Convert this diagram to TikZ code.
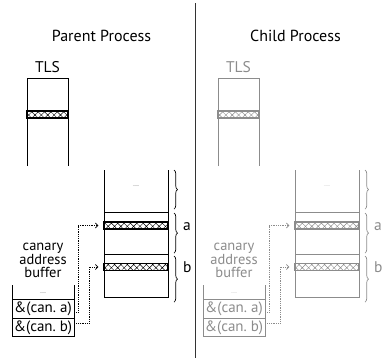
\documentclass[tikz,border=0pt]{standalone}
\usepackage{fontspec}
\setmainfont{PT Sans}
\usetikzlibrary{patterns.meta,decorations.pathreplacing,arrows.meta}

\definecolor{ghost}{gray}{0.55}

\tikzset{
  wall/.style={line width=1pt},
  band/.style={draw,line width=1.1pt,minimum height=7pt,inner sep=0pt,
    pattern={Hatch[angle=45,distance=4.5pt,line width=0.45pt]}},
  cell/.style={draw,line width=0.9pt,minimum width=62pt,minimum height=18.5pt,
    inner sep=0pt,font=\fontsize{15}{15}\selectfont},
  ptr/.style={densely dotted,line width=0.8pt,-{Straight Barb[length=2.5pt,width=5pt]}},
  brc/.style={decorate,decoration={brace,amplitude=3.5pt},line width=0.7pt},
  gap/.style={font=\fontsize{4}{4}\selectfont,inner sep=0pt},
  title/.style={anchor=base,inner sep=0pt,font=\fontsize{16}{16}\selectfont},
  lbl/.style={anchor=base,inner sep=0pt,font=\fontsize{15.5}{15.5}\selectfont},
  bufname/.style={anchor=south,inner sep=0pt,align=center,
    font=\fontsize{14.5}{13.5}\selectfont},
}

\begin{document}
\begin{tikzpicture}[x=1pt,y=-1pt]
  \useasboundingbox (0,0) rectangle (383,360);

  % the two processes
  \node[title] (ptitle) at (101.5,41) {Parent Process};
  \node[title] (ctitle) at (295.5,41.5) {Child Process};
  \draw[line width=1pt,black!80] (195,3) -- (195,358);

  \foreach \p/\dx/\col in {p/0/black, c/191/ghost} {
    \begin{scope}[xshift=\dx pt, draw=\col, text=\col, pattern color=\col]
      % TLS
      \node[lbl] (\p-tlsname) at (47.5,72) {TLS};
      \draw[wall] (27,166) -- (27,78) -- (68,78) -- (68,166);
      \node[band,minimum width=41pt] (\p-tls) at (47.5,114.5) {};

      % stack
      \draw[wall] (104,170) -- (104,297) -- (168,297) -- (168,170);
      \draw[wall] (104,212) -- (168,212);
      \draw[wall] (104,254) -- (168,254);
      \node[gap] (\p-sdots) at (136,186) {......};
      \node[band,minimum width=64pt] (\p-a) at (136,225.5) {};
      \node[band,minimum width=64pt] (\p-b) at (136,267) {};
      \draw[brc] (174,170) -- (174,209);
      \draw[brc] (174,213) -- (174,253);
      \draw[brc] (174,256) -- (174,302);
      \node[lbl,anchor=base west] (\p-la) at (183,230) {a};
      \node[lbl,anchor=base west] (\p-lb) at (183,272) {b};

      % canary address buffer
      \node[bufname] (\p-bufname) at (43,278) {canary\\address\\buffer};
      \draw[wall] (12,300) -- (12,285);
      \draw[wall] (74,300) -- (74,285);
      \node[gap] (\p-bdots) at (43,293) {......};
      \node[cell] (\p-cana) at (43,309) {\&(can.\ a)};
      \node[cell] (\p-canb) at (43,327.5) {\&(can.\ b)};

      \draw[ptr] ([yshift=-3pt]\p-cana.east) -- ++(4,0) |- ([xshift=-5pt]\p-a.west);
      \draw[ptr] ([yshift=4.5pt]\p-canb.east) -- ++(15,0) |- ([xshift=-5pt]\p-b.west);
    \end{scope}
  }
\end{tikzpicture}
\end{document}
